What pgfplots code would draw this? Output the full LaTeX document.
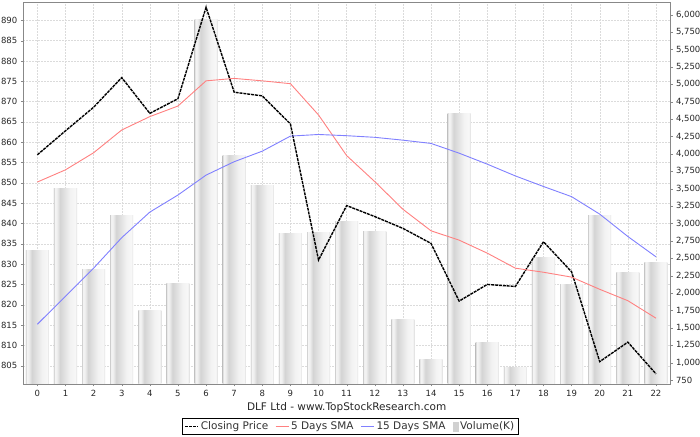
\documentclass[border=0pt]{standalone}
\usepackage{fontspec}
\setmainfont{DejaVu Sans}
\usepackage{pgfplots}
\pgfplotsset{compat=1.18}

\definecolor{sma5}{RGB}{255,128,128}
\definecolor{sma15}{RGB}{128,128,255}
\definecolor{axisgray}{RGB}{136,136,136}
% cylinder-like shading of one volume bar (path spans 25bp..75bp)
\pgfdeclarehorizontalshading{barshade}{100bp}{color(0bp)=(black!17); color(25bp)=(black!17);
  color(27bp)=(black!4); color(31bp)=(black!6); color(38bp)=(black!17); color(60bp)=(black!5);
  color(71bp)=(black!3); color(75bp)=(black!13); color(100bp)=(black!13)}

\pgfplotsset{
  common/.style={
    scale only axis, width=646.7pt, height=382pt,
    xmin=-0.5, xmax=22.5,
    /pgf/number format/assume math mode=true,
    ticklabel style={font=\fontsize{8.5}{10}\selectfont, text=black!85},
  },
  volbar/.style={ybar, bar width=0.82, bar shift=0pt, draw=none, shade, shading=barshade},
}

\begin{document}
\begin{tikzpicture}
% price axis: grid, ticks, labels
\begin{axis}[common, name=main,
  ymin=800.5, ymax=894.5,
  xtick={0,...,22}, ytick={805,810,...,890},
  grid=major, grid style={dash pattern=on 1.5pt off 1.5pt, black!14},
  axis line style={draw=none},
  tick align=outside, major tick length=2.5pt, tick style={axisgray},
  xtick pos=bottom, ytick pos=left,
  xlabel={DLF Ltd - www.TopStockResearch.com},
  xlabel style={font=\fontsize{10.5}{12}\selectfont, text=black!85,
    at={(axis description cs:0.5,-0.0615)}, anchor=center},
]
\end{axis}

% volume axis (right), one plot per bar so each bar gets its own shading
\begin{axis}[common,
  ymin=693, ymax=6182,
  xtick=\empty, ytick={750,1000,...,6000},
  axis line style={draw=none},
  tick align=outside, major tick length=2.5pt, tick style={axisgray},
  ytick pos=right,
  yticklabel style={/pgf/number format/.cd, fixed, 1000 sep={,}},
]
\addplot[volbar] coordinates {(0,2604)};
\addplot[volbar] coordinates {(1,3505)};
\addplot[volbar] coordinates {(2,2331)};
\addplot[volbar] coordinates {(3,3121)};
\addplot[volbar] coordinates {(4,1752)};
\addplot[volbar] coordinates {(5,2140)};
\addplot[volbar] coordinates {(6,5934)};
\addplot[volbar] coordinates {(7,3979)};
\addplot[volbar] coordinates {(8,3548)};
\addplot[volbar] coordinates {(9,2858)};
\addplot[volbar] coordinates {(10,2873)};
\addplot[volbar] coordinates {(11,3021)};
\addplot[volbar] coordinates {(12,2881)};
\addplot[volbar] coordinates {(13,1617)};
\addplot[volbar] coordinates {(14,1052)};
\addplot[volbar] coordinates {(15,4583)};
\addplot[volbar] coordinates {(16,1286)};
\addplot[volbar] coordinates {(17,927)};
\addplot[volbar] coordinates {(18,2508)};
\addplot[volbar] coordinates {(19,2126)};
\addplot[volbar] coordinates {(20,3121)};
\addplot[volbar] coordinates {(21,2293)};
\addplot[volbar] coordinates {(22,2432)};
\end{axis}

% price lines, frame, legend
\begin{axis}[common,
  ymin=800.5, ymax=894.5,
  xtick=\empty, ytick=\empty,
  axis line style={axisgray},
  legend columns=-1,
  legend style={at={(axis description cs:0.5057,-0.0898)}, anchor=north,
    draw=black, font=\fontsize{10.5}{12}\selectfont, text=black!80,
    inner xsep=2pt, inner ysep=1pt,
    /tikz/every even column/.append style={column sep=5pt}},
  legend image code/.code={\draw[#1] (0pt,0pt) -- (13pt,0pt);},
]
% Closing Price
\addplot[black, line width=1.4pt, dash pattern=on 3pt off 0.9pt]
coordinates {(0,856.9)(1,862.8)(2,868.6)(3,875.9)(4,867.1)(5,870.7)(6,893.2)(7,872.3)
(8,871.4)(9,864.5)(10,831.0)(11,844.4)(12,841.7)(13,838.8)(14,835.1)(15,820.9)
(16,825.0)(17,824.5)(18,835.5)(19,828.1)(20,806.0)(21,810.8)(22,803.0)};
% 5 Days SMA
\addplot[sma5, line width=0.9pt]
coordinates {(0,850.2)(1,853.2)(2,857.4)(3,863.0)(4,866.3)(5,868.9)(6,875.1)(7,875.7)
(8,875.1)(9,874.4)(10,866.7)(11,856.7)(12,850.3)(13,843.5)(14,838.2)(15,835.9)
(16,832.7)(17,829.0)(18,828.0)(19,826.8)(20,823.8)(21,821.0)(22,816.7)};
% 15 Days SMA
\addplot[sma15, line width=0.9pt]
coordinates {(0,815.2)(1,822.1)(2,829.0)(3,836.5)(4,842.8)(5,847.0)(6,851.9)(7,855.2)
(8,857.8)(9,861.5)(10,861.9)(11,861.6)(12,861.2)(13,860.5)(14,859.7)(15,857.3)
(16,854.6)(17,851.7)(18,849.1)(19,846.6)(20,842.3)(21,836.8)(22,831.8)};
\addlegendimage{legend image code/.code={\fill[black!18] (4pt,-4.5pt) rectangle (9pt,4.5pt);}}
\legend{Closing Price, 5 Days SMA, 15 Days SMA, Volume(K)}
\end{axis}

\pgfresetboundingbox
\path[use as bounding box] ([shift={(-23.3pt,-53pt)}]main.south west) rectangle ([shift={(30pt,2pt)}]main.north east);
\end{tikzpicture}
\end{document}
